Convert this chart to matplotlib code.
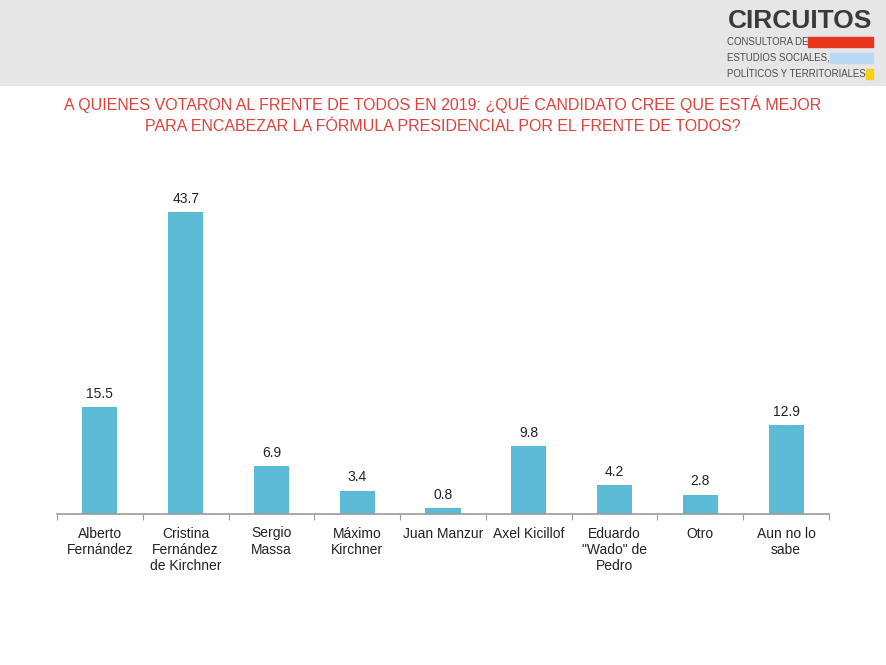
import matplotlib
matplotlib.use("Agg")
import matplotlib.pyplot as plt
from matplotlib.patches import Rectangle

categories = ["Alberto\nFernández", "Cristina\nFernández\nde Kirchner", "Sergio\nMassa",
              "Máximo\nKirchner", "Juan Manzur", "Axel Kicillof",
              "Eduardo\n\"Wado\" de\nPedro", "Otro", "Aun no lo\nsabe"]
values = [15.5, 43.7, 6.9, 3.4, 0.8, 9.8, 4.2, 2.8, 12.9]
title = ("A QUIENES VOTARON AL FRENTE DE TODOS EN 2019: ¿QUÉ CANDIDATO CREE QUE ESTÁ MEJOR\n"
         "PARA ENCABEZAR LA FÓRMULA PRESIDENCIAL POR EL FRENTE DE TODOS?")

W, H = 887, 665
fig = plt.figure(figsize=(W/100, H/100), dpi=100)
plt.rcParams['font.family'] = ['Liberation Sans', 'DejaVu Sans']

# header band
fig.patches.append(Rectangle((0, 1 - 85/H), 1, 85/H, transform=fig.transFigure,
                             color="#e6e6e6", zorder=0))
fig.text(800/W, 1 - 21/H, "CIRCUITOS", ha="center", va="center", fontsize=19,
         fontweight="bold", color="#3a3a3a")
logo_lines = ["CONSULTORA DE", "ESTUDIOS SOCIALES,", "POLÍTICOS Y TERRITORIALES"]
logo_cols = ["#e8341c", "#b9d9f2", "#f7d117"]
renderer = fig.canvas.get_renderer()
for i, (t, c) in enumerate(zip(logo_lines, logo_cols)):
    y = 42 + i * 16
    txt = fig.text(727/W, 1 - y/H, t, ha="left", va="center", fontsize=6.9, color="#4a4a4a")
    x_end = txt.get_window_extent(renderer).x1
    fig.patches.append(Rectangle((x_end/W, 1 - (y + 5)/H), (873 - x_end)/W, 10/H,
                                 transform=fig.transFigure, color=c, zorder=1))

fig.text(443/W, 1 - 115/H, title, ha="center", va="center", fontsize=11.5,
         color="#e0413a", linespacing=1.5)

ax = fig.add_axes([57/W, 151/H, (829 - 57)/W, 345/H])
x = range(len(categories))
ax.bar(x, values, width=0.41, color="#5bbad5")
for xi, v in zip(x, values):
    ax.text(xi, v + 0.9, f"{v:.1f}", ha="center", va="bottom", fontsize=10, color="#222222")
ax.set_xlim(-0.5, len(categories) - 0.5)
ax.set_ylim(0, 50)
ax.set_xticks([i + 0.5 for i in range(-1, len(categories))], minor=False)
ax.set_xticklabels([])
ax.tick_params(axis="x", length=4, color="#999999", direction="out")
ax.set_xticks(list(x), minor=True)
ax.set_xticklabels(categories, minor=True, fontsize=10, color="#222222", linespacing=1.2, va="top")
ax.tick_params(axis="x", which="minor", length=0, pad=9)
ax.set_yticks([])
for s in ["top", "right", "left"]:
    ax.spines[s].set_visible(False)
ax.spines["bottom"].set_color("#999999")
ax.spines["bottom"].set_linewidth(1.2)

fig.savefig("out.png", dpi=100)
